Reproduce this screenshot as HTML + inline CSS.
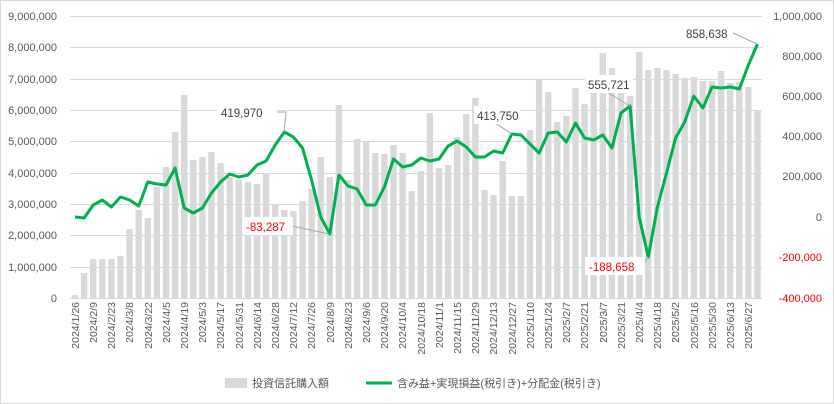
<!DOCTYPE html>
<html><head><meta charset="utf-8"><style>
body{margin:0;background:#fff}
svg{display:block;font-family:"Liberation Sans","Noto Sans CJK JP",sans-serif}
</style></head><body>
<svg id="s" width="834" height="404" viewBox="0 0 834 404" xmlns="http://www.w3.org/2000/svg">
<rect x="0.5" y="0.5" width="833" height="403" fill="#fff" stroke="#d9d9d9"/>
<g stroke="#d9d9d9" stroke-width="1">
<line x1="70" x2="762" y1="16.5" y2="16.5"/><line x1="70" x2="762" y1="47.5" y2="47.5"/><line x1="70" x2="762" y1="79.5" y2="79.5"/><line x1="70" x2="762" y1="110.5" y2="110.5"/><line x1="70" x2="762" y1="141.5" y2="141.5"/><line x1="70" x2="762" y1="173.5" y2="173.5"/><line x1="70" x2="762" y1="204.5" y2="204.5"/><line x1="70" x2="762" y1="235.5" y2="235.5"/><line x1="70" x2="762" y1="267.5" y2="267.5"/><line x1="70" x2="762" y1="298.5" y2="298.5"/>
</g>
<g id="bars" fill="#d9d9d9"></g>
<g font-size="11" fill="#595959" text-anchor="end">
<text x="57" y="20">9,000,000</text><text x="57" y="51">8,000,000</text><text x="57" y="83">7,000,000</text><text x="57" y="114">6,000,000</text><text x="57" y="145">5,000,000</text><text x="57" y="177">4,000,000</text><text x="57" y="208">3,000,000</text><text x="57" y="239">2,000,000</text><text x="57" y="271">1,000,000</text><text x="57" y="302">0</text>
</g>
<g font-size="11" fill="#595959" text-anchor="end">
<text x="822" y="20">1,000,000</text><text x="822" y="60">800,000</text><text x="822" y="100">600,000</text><text x="822" y="140">400,000</text><text x="822" y="180">200,000</text><text x="822" y="221">0</text><text x="822" y="261" fill="#ff0000">-200,000</text><text x="822" y="302" fill="#ff0000">-400,000</text>
</g>
<g id="xl" font-size="10.5" fill="#595959" text-anchor="end">
<text transform="translate(79,302) rotate(-90)">2024/1/26</text>
<text transform="translate(97,302) rotate(-90)">2024/2/9</text>
<text transform="translate(115,302) rotate(-90)">2024/2/23</text>
<text transform="translate(133,302) rotate(-90)">2024/3/8</text>
<text transform="translate(152,302) rotate(-90)">2024/3/22</text>
<text transform="translate(170,302) rotate(-90)">2024/4/5</text>
<text transform="translate(188,302) rotate(-90)">2024/4/19</text>
<text transform="translate(206,302) rotate(-90)">2024/5/3</text>
<text transform="translate(224,302) rotate(-90)">2024/5/17</text>
<text transform="translate(243,302) rotate(-90)">2024/5/31</text>
<text transform="translate(261,302) rotate(-90)">2024/6/14</text>
<text transform="translate(279,302) rotate(-90)">2024/6/28</text>
<text transform="translate(297,302) rotate(-90)">2024/7/12</text>
<text transform="translate(315,302) rotate(-90)">2024/7/26</text>
<text transform="translate(334,302) rotate(-90)">2024/8/9</text>
<text transform="translate(352,302) rotate(-90)">2024/8/23</text>
<text transform="translate(370,302) rotate(-90)">2024/9/6</text>
<text transform="translate(388,302) rotate(-90)">2024/9/20</text>
<text transform="translate(406,302) rotate(-90)">2024/10/4</text>
<text transform="translate(425,302) rotate(-90)">2024/10/18</text>
<text transform="translate(443,302) rotate(-90)">2024/11/1</text>
<text transform="translate(461,302) rotate(-90)">2024/11/15</text>
<text transform="translate(479,302) rotate(-90)">2024/11/29</text>
<text transform="translate(497,302) rotate(-90)">2024/12/13</text>
<text transform="translate(516,302) rotate(-90)">2024/12/27</text>
<text transform="translate(534,302) rotate(-90)">2025/1/10</text>
<text transform="translate(552,302) rotate(-90)">2025/1/24</text>
<text transform="translate(570,302) rotate(-90)">2025/2/7</text>
<text transform="translate(588,302) rotate(-90)">2025/2/21</text>
<text transform="translate(607,302) rotate(-90)">2025/3/7</text>
<text transform="translate(625,302) rotate(-90)">2025/3/21</text>
<text transform="translate(643,302) rotate(-90)">2025/4/4</text>
<text transform="translate(661,302) rotate(-90)">2025/4/18</text>
<text transform="translate(679,302) rotate(-90)">2025/5/2</text>
<text transform="translate(698,302) rotate(-90)">2025/5/16</text>
<text transform="translate(716,302) rotate(-90)">2025/5/30</text>
<text transform="translate(734,302) rotate(-90)">2025/6/13</text>
<text transform="translate(752,302) rotate(-90)">2025/6/27</text>
</g>
<polyline id="ln" fill="none" stroke="#00b050" stroke-width="3" stroke-linejoin="round"/>
<g stroke="#a6a6a6" stroke-width="1" fill="none">
<polyline points="277,112 286,112 284,132"/>
<polyline points="292,226 329,234"/>
<polyline points="495,123 512,134"/>
<polyline points="600,88 630,106"/>
<polyline points="643,266 648,257"/>
<polyline points="733,33 757,44"/>
</g>
<g font-size="11.5" fill="#404040">
<rect x="217" y="103" width="60" height="18" fill="#fff"/><text x="221" y="117">419,970</text>
<rect x="243" y="217" width="50" height="18" fill="#fff"/><text x="246" y="231" fill="#ff0000">-83,287</text>
<rect x="474" y="106" width="46" height="18" fill="#fff"/><text x="477" y="120">413,750</text>
<rect x="585" y="75" width="48" height="18" fill="#fff"/><text x="588" y="89">555,721</text>
<rect x="585" y="257" width="60" height="18" fill="#fff"/><text x="589" y="271" fill="#ff0000">-188,658</text>
<rect x="683" y="24" width="50" height="18" fill="#fff"/><text x="686" y="38">858,638</text>
</g>
<rect x="225" y="378" width="22" height="10" fill="#d9d9d9"/>
<text x="252" y="387" font-size="11" fill="#595959">投資信託購入額</text>
<line x1="366" x2="392" y1="383" y2="383" stroke="#00b050" stroke-width="3"/>
<text x="397" y="387" font-size="11" fill="#595959">含み益+実現損益(税引き)+分配金(税引き)</text>
</svg>
<script>
var b=[295,273,259,259,259,256,229,210,218,187,167,132,95,160,157,152,163,177,180,182,184,174,205,210,211,201,189,157,177,105,180,139,141,153,154,145,153,191,171,113,168,165,137,114,98,190,195,161,196,196,130,80,92,122,116,88,104,92,53,68,76,96,52,70,68,70,74,78,77,81,81,71,83,82,87,111];
var l=[217,218,205,200,207,197,200,206,182,184,185,168,208,213,208,193,182,174,177,175,165,161,145,132,137,148,180,217,234,175,186,189,205,205,187,159,167,165,158,161,159,146,141,147,157,157,151,153,134,135,144,153,133,132,142,123,138,140,135,148,113,106,217,257,207,173,138,122,96,108,87,88,87,89,65,44];
var g=document.getElementById('bars'),s='',p=[];
for(var i=0;i<b.length;i++){var x=75+9.1*i;s+='<rect x="'+(x-3.2).toFixed(1)+'" y="'+b[i]+'" width="6.4" height="'+(298-b[i])+'"/>';p.push(x.toFixed(1)+','+l[i]);}
g.innerHTML=s;document.getElementById('ln').setAttribute('points',p.join(' '));
</script>
</body></html>
